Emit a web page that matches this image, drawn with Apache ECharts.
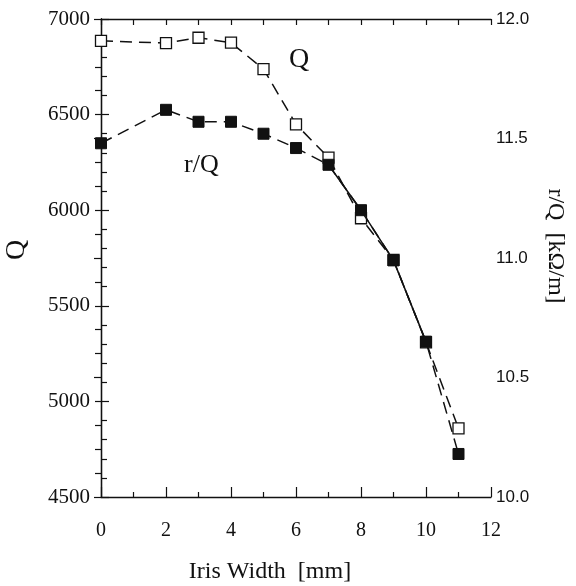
<!DOCTYPE html>
<html><head><meta charset="utf-8">
<script src="https://cdn.jsdelivr.net/npm/echarts@6/dist/echarts.min.js"></script>
<style>html,body{margin:0;padding:0;background:#fff}#c{width:576px;height:586px}</style>
</head><body><div id="c"></div>
<script>
const irisWidth = [0, 2, 3, 4, 5, 6, 7, 8, 9, 10, 11];
const qValues = [6886, 6874, 6902, 6876, 6738, 6449, 6275, 5958, 5740, 5309, 4859];
const rqValues = [11.48, 11.62, 11.57, 11.57, 11.52, 11.46, 11.39, 11.20, 10.99, 10.65, 10.18];
const leftTicks = [4500, 5000, 5500, 6000, 6500, 7000];
const rightTicks = ['10.0', '10.5', '11.0', '11.5', '12.0'];
const xTicks = [0, 2, 4, 6, 8, 10, 12];

const serif = 'Liberation Serif';
const sans = 'Liberation Sans';
const qData = irisWidth.map((x, i) => [x, qValues[i]]);
const rqData = irisWidth.map((x, i) => [x, rqValues[i]]);
const rqSolid = irisWidth.map((x, i) => [x, (x >= 7 && x <= 10) ? rqValues[i] : null]);

const chart = echarts.init(document.getElementById('c'));
chart.setOption({
  animation: false,
  backgroundColor: '#fff',
  grid: { left: 101, right: 85, top: 19, bottom: 89, containLabel: false, outerBoundsMode: 'none' },
  xAxis: [{
    type: 'value', min: xTicks[0], max: xTicks[xTicks.length - 1], interval: 2,
    position: 'bottom',
    name: 'Iris Width  [mm]', nameLocation: 'middle', nameGap: 63,
    nameTextStyle: { fontFamily: serif, fontSize: 24, color: '#111', padding: [0, 52, 0, 0] },
    axisLine: { lineStyle: { color: '#111', width: 1.3 } },
    axisTick: { inside: true, length: 10, lineStyle: { color: '#111', width: 1.2 } },
    minorTick: { show: true, splitNumber: 2, length: 5, lineStyle: { color: '#111', width: 1.2 } },
    axisLabel: { fontFamily: serif, fontSize: 20, color: '#111', margin: 24 },
    splitLine: { show: false }
  }, {
    type: 'value', min: 0, max: 12, interval: 1, position: 'top',
    axisLine: { lineStyle: { color: '#111', width: 1.3 } },
    axisTick: { inside: true, length: 6, lineStyle: { color: '#111', width: 1.2 } },
    axisLabel: { show: false }, splitLine: { show: false }
  }],
  yAxis: [{
    type: 'value', min: leftTicks[0], max: leftTicks[leftTicks.length - 1], interval: 500,
    position: 'left',
    name: 'Q', nameLocation: 'middle', nameGap: 70,
    nameTextStyle: { fontFamily: serif, fontSize: 28, color: '#111', padding: [0, 0, 0, 16] },
    axisLine: { show: true, lineStyle: { color: '#111', width: 1.3 } },
    axisTick: { show: true, inside: true, length: 8, lineStyle: { color: '#111', width: 1.2 } },
    minorTick: { show: true, splitNumber: 5, length: 6, lineStyle: { color: '#111', width: 1.2 } },
    axisLabel: { fontFamily: serif, fontSize: 21, color: '#111', margin: 11,
      formatter: v => String(leftTicks.find(t => t === v) ?? '') },
    splitLine: { show: false }
  }, {
    type: 'value', min: 10, max: 12, interval: 0.5, position: 'right',
    name: 'r/Q  [kΩ/m]', nameLocation: 'middle', nameGap: 52, nameRotate: -90,
    nameTextStyle: { fontFamily: serif, fontSize: 24, color: '#111', padding: [0, 24, 0, 0] },
    axisLine: { show: true, lineStyle: { color: '#111', width: 1.3 } },
    axisTick: { show: true, inside: true, length: 7, lineStyle: { color: '#111', width: 1.2 } },
    minorTick: { show: true, splitNumber: 5, length: 6, lineStyle: { color: '#111', width: 1.2 } },
    axisLabel: { fontFamily: sans, fontSize: 17, color: '#111', margin: 5,
      formatter: v => rightTicks.find(t => Math.abs(parseFloat(t) - v) < 1e-6) || '' },
    splitLine: { show: false }
  }],
  graphic: [
    { type: 'text', left: 289, top: 46, style: { text: 'Q', font: '28px "Liberation Serif"', fill: '#111' } },
    { type: 'text', left: 184, top: 152, style: { text: 'r/Q', font: '26px "Liberation Serif"', fill: '#111' } }
  ],
  series: [{
    name: 'Q', type: 'line', xAxisIndex: 0, yAxisIndex: 0, data: qData, z: 2,
    symbol: 'rect', symbolSize: 11,
    lineStyle: { color: '#111', width: 1.5, type: [12, 7] },
    itemStyle: { color: '#fff', borderColor: '#111', borderWidth: 1.3 }
  }, {
    name: 'r/Q', type: 'line', xAxisIndex: 0, yAxisIndex: 1, data: rqData, z: 3,
    symbol: 'rect', symbolSize: 11,
    lineStyle: { color: '#111', width: 1.5, type: [12, 7] },
    itemStyle: { color: '#111', borderColor: '#111', borderWidth: 1 }
  }, {
    name: 'r/Q solid', type: 'line', xAxisIndex: 0, yAxisIndex: 1, data: rqSolid, z: 2,
    symbol: 'none', connectNulls: false,
    lineStyle: { color: '#111', width: 1.5, type: 'solid' }
  }]
});
</script></body></html>
